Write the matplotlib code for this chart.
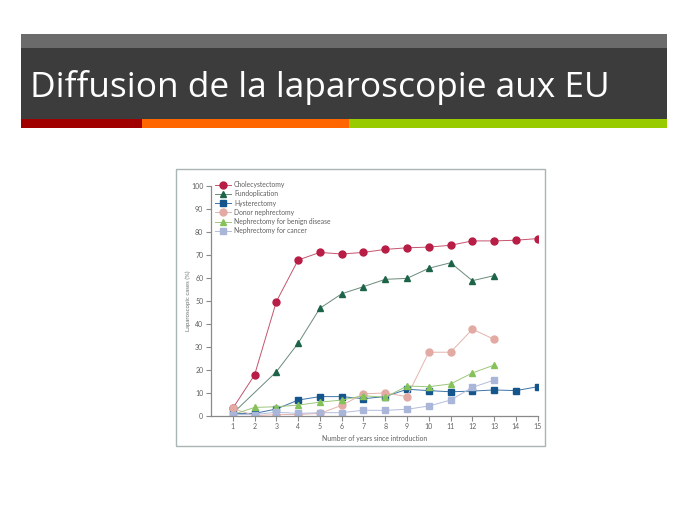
import matplotlib.pyplot as plt
from matplotlib.patches import Rectangle
import numpy as np

# data
years_all = list(range(1, 16))
years_13 = list(range(1, 14))
fundo_years = [1] + list(range(3, 14))

chole = [3.2, 17.7, 49.6, 67.7, 71.0, 70.3, 71.0, 72.3, 73.0, 73.3, 74.1, 76.0, 76.0, 76.3, 77.0]
fundo = [1.0, 19.1, 31.5, 46.7, 53.0, 56.1, 59.3, 59.7, 64.1, 66.5, 58.7, 60.9]
hyster = [1.0, 1.0, 2.9, 6.8, 8.3, 8.3, 7.4, 8.3, 11.5, 10.9, 10.4, 10.7, 11.2, 10.9, 12.6]
donor = [3.2, 0.0, 0.5, 0.5, 1.0, 4.5, 9.5, 9.9, 8.3, 27.6, 27.6, 37.6, 33.2]
benign = [0.5, 3.6, 3.9, 4.6, 5.9, 6.8, 8.7, 8.0, 12.9, 12.6, 13.8, 18.6, 22.0]
cancer = [0.5, 0.5, 1.5, 1.0, 1.3, 1.3, 2.4, 2.3, 2.8, 4.2, 6.8, 12.3, 15.5]

labels = ["Cholecystectomy", "Fundoplication", "Hysterectomy", "Donor nephrectomy",
          "Nephrectomy for benign disease", "Nephrectomy for cancer"]

title = "Diffusion de la laparoscopie aux EU"

W, H = 689, 517
fig = plt.figure(figsize=(W / 100, H / 100), dpi=100)
fig.patch.set_facecolor("white")


def box(x0, y0, x1, y1, **kw):
    # rectangle given in pixel coords from top left
    fig.patches.append(Rectangle((x0 / W, 1 - y1 / H), (x1 - x0) / W, (y1 - y0) / H,
                                 transform=fig.transFigure, **kw))


# slide header
box(21, 34, 667, 47.5, facecolor="#6b6b6b", edgecolor="none")
box(21, 47.5, 667, 119.5, facecolor="#3c3c3c", edgecolor="none")
box(21, 119.5, 142, 128.5, facecolor="#a00000", edgecolor="none")
box(142, 119.5, 349, 128.5, facecolor="#ff6600", edgecolor="none")
box(349, 119.5, 667, 128.5, facecolor="#99cc00", edgecolor="none")
fig.text(30 / W, 1 - 97 / H, title, color="white", fontsize=25.4, family="Open Sans",
         ha="left", va="baseline")

# frame of the pasted figure
box(176, 169, 545, 446, facecolor="none", edgecolor="#a9b5b5", linewidth=1.0)

ax = fig.add_axes([211 / W, 1 - 415.7 / H, 326.7 / W, 230 / H])
ax.set_facecolor("none")

ax.plot(years_all, chole, color="#c4546c", lw=0.7, marker="o", ms=5.0,
        mfc="#b81d45", mec="#b81d45", label=labels[0])
ax.plot(fundo_years, fundo, color="#6a8a7a", lw=0.7, marker="^", ms=4.2,
        mfc="#1c6448", mec="#1c6448", label=labels[1])
ax.plot(years_all, hyster, color="#3d74a8", lw=0.7, marker="s", ms=3.8,
        mfc="#14568c", mec="#14568c", label=labels[2])
ax.plot(years_13, donor, color="#e4b4ae", lw=0.7, marker="o", ms=5.0,
        mfc="#e3aaa4", mec="#e3aaa4", label=labels[3])
ax.plot(years_13, benign, color="#9cc77a", lw=0.7, marker="^", ms=4.2,
        mfc="#86c25a", mec="#86c25a", label=labels[4])
ax.plot(years_13, cancer, color="#b4bcdc", lw=0.7, marker="s", ms=3.8,
        mfc="#aab5da", mec="#aab5da", label=labels[5])

ax.set_xlim(0, 15)
ax.set_ylim(0, 100)
ax.set_xticks(years_all)
ax.set_yticks(range(0, 101, 10))
for s in ["top", "right"]:
    ax.spines[s].set_visible(False)
for s in ["left", "bottom"]:
    ax.spines[s].set_color("#8a8a8a")
    ax.spines[s].set_linewidth(0.9)
ax.tick_params(colors="#8a8a8a", labelcolor="#606060", labelsize=5, length=3.5,
               width=0.8, pad=2)
for t in ax.get_xticklabels() + ax.get_yticklabels():
    t.set_family("Lato")
ax.set_xlabel("Number of years since introduction", fontsize=4.9, color="#606060",
              family="Lato", labelpad=3)
ax.set_ylabel("Laparoscopic cases (%)", fontsize=4.4, color="#707070", family="Lato")
ax.yaxis.set_label_coords(-0.061, 0.5)

leg = ax.legend(loc="upper left", bbox_to_anchor=(0.012, 1.02), frameon=False,
                prop={"family": "Lato", "size": 4.9}, labelcolor="#606060",
                handlelength=2.3, handletextpad=0.5, labelspacing=0.33,
                borderaxespad=0, borderpad=0)

fig.savefig("out.png", dpi=100)
